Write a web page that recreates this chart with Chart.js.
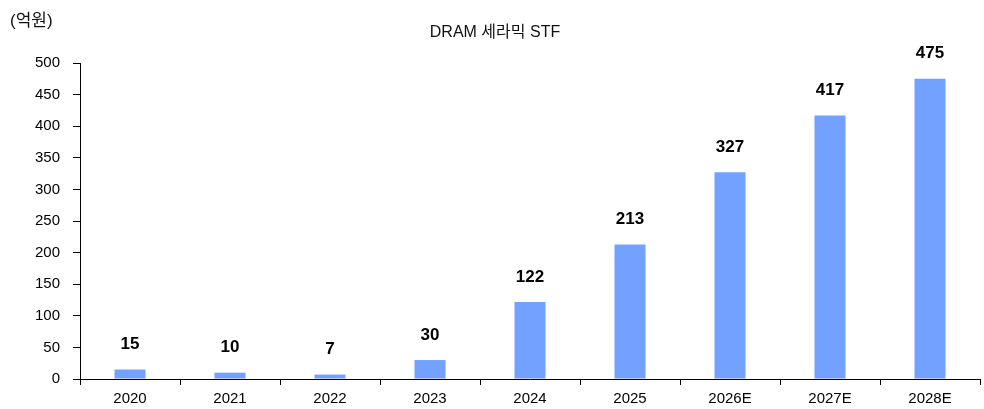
<!DOCTYPE html>
<html>
<head>
<meta charset="utf-8">
<script src="https://cdn.jsdelivr.net/npm/chart.js@4"></script>
<style>
html,body{margin:0;padding:0;background:#fff;}
#wrap{width:984px;height:409px;position:relative;}
</style>
</head>
<body>
<div id="wrap"><canvas id="c" width="984" height="409"></canvas></div>
<script>
const categories = ['2020','2021','2022','2023','2024','2025','2026E','2027E','2028E'];
const values = [15, 10, 7, 30, 122, 213, 327, 417, 475];
const yTicks = [0, 50, 100, 150, 200, 250, 300, 350, 400, 450, 500];
const titleText = 'DRAM 세라믹 STF';
const unitText = '(억원)';

const FONT = "'Liberation Sans', 'Noto Sans CJK KR', Arial, sans-serif";

const labelPlugin = {
  id: 'labels',
  afterDatasetsDraw(chart) {
    const ctx = chart.ctx;
    const meta = chart.getDatasetMeta(0);
    ctx.save();
    ctx.font = "bold 17px " + FONT;
    ctx.fillStyle = '#000';
    ctx.textAlign = 'center';
    ctx.textBaseline = 'middle';
    meta.data.forEach((bar, i) => {
      ctx.fillText(String(values[i]), bar.x, bar.y - 25);
    });
    ctx.font = "16px " + FONT;
    ctx.fillStyle = '#111';
    ctx.textAlign = 'center';
    ctx.fillText(titleText, chart.width / 2 + 3, 33);
    ctx.font = "17px " + FONT;
    ctx.textAlign = 'left';
    ctx.fillText(unitText, 10, 21);
    ctx.restore();
  }
};

new Chart(document.getElementById('c'), {
  type: 'bar',
  data: {
    labels: categories,
    datasets: [{
      data: values,
      backgroundColor: '#73A1FF',
      borderWidth: 0,
      barPercentage: 0.31,
      categoryPercentage: 1.0
    }]
  },
  options: {
    responsive: false,
    animation: false,
    devicePixelRatio: 1,
    layout: { padding: { left: 0, right: 4, top: 63, bottom: 0 } },
    plugins: { legend: { display: false }, tooltip: { enabled: false }, title: { display: false } },
    scales: {
      x: {
        grid: { display: true, drawOnChartArea: false, drawTicks: true, tickLength: 6, color: '#000', offset: true },
        border: { display: true, color: '#000', width: 1 },
        ticks: { color: '#000', font: { family: FONT, size: 15 }, padding: 5, maxRotation: 0, autoSkip: false },
        afterFit(s) { s.height = 30; }
      },
      y: {
        min: 0, max: 500,
        afterBuildTicks(s) { s.ticks = yTicks.map(v => ({ value: v })); },
        grid: { display: true, drawOnChartArea: false, drawTicks: true, tickLength: 7, color: '#000' },
        border: { display: true, color: '#000', width: 1 },
        ticks: { color: '#000', font: { family: FONT, size: 15 }, padding: 13 },
        afterFit(s) { s.width = 80; }
      }
    }
  },
  plugins: [labelPlugin]
});
</script>
</body>
</html>
